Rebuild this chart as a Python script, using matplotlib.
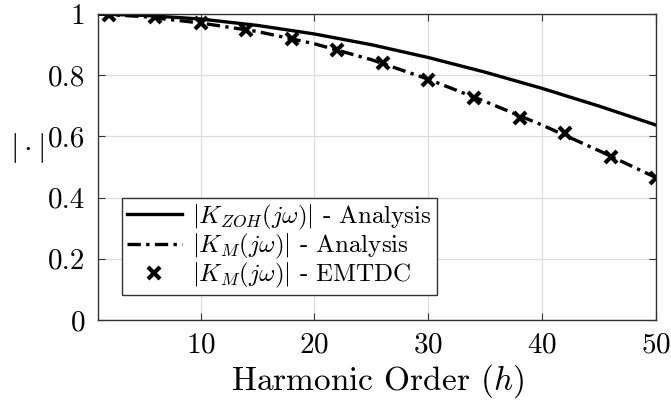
import numpy as np
import matplotlib
matplotlib.use('Agg')
import matplotlib.pyplot as plt

plt.rcParams['font.family'] = 'cmr10'
plt.rcParams['mathtext.fontset'] = 'cm'
plt.rcParams['axes.formatter.use_mathtext'] = True

# analysis curves
h_curve = [1, 5, 10, 15, 20, 25, 30, 35, 40, 45, 50]
k_zoh = [1.0, 0.996, 0.984, 0.963, 0.935, 0.900, 0.858, 0.810, 0.757, 0.699, 0.637]
k_m = [1.0, 0.992, 0.971, 0.943, 0.903, 0.851, 0.787, 0.714, 0.637, 0.553, 0.465]

# EMTDC points
h_emt = [2, 6, 10, 14, 18, 22, 26, 30, 34, 38, 42, 46, 50]
k_emt = [0.997, 0.990, 0.971, 0.948, 0.920, 0.882, 0.840, 0.784, 0.726, 0.660, 0.611, 0.533, 0.465]

xticks = [10, 20, 30, 40, 50]
yticks = [0, 0.2, 0.4, 0.6, 0.8, 1]

fig = plt.figure(figsize=(6.71, 4.03), dpi=100)
ax = fig.add_axes([0.146, 0.206, 0.832, 0.759])

ax.plot(h_curve, k_zoh, color='black', lw=2.4, label=r'$|K_{ZOH}(j\omega)|$ - Analysis')
ax.plot(h_curve, k_m, color='black', lw=2.4, linestyle=(0, (4, 1.6, 1, 1.6)),
        label=r'$|K_M(j\omega)|$ - Analysis')
ax.plot(h_emt, k_emt, linestyle='none', marker='x', color='black', markersize=9,
        markeredgewidth=3, label=r'$|K_M(j\omega)|$ - EMTDC')

ax.set_xlim(1, 50)
ax.set_ylim(0, 1)
ax.set_xticks(xticks)
ax.set_yticks(yticks)
ax.set_yticklabels(['0', '0.2', '0.4', '0.6', '0.8', '1'])
ax.grid(True, color='#dddddd', linewidth=0.9)
ax.set_axisbelow(True)
ax.tick_params(direction='in', top=True, right=True, labelsize=21, length=5, color='#333333', pad=9)
for s in ax.spines.values():
    s.set_color('#333333')
    s.set_linewidth(1.0)

ax.set_xlabel(r'Harmonic Order ($h$)', fontsize=24, labelpad=2)
ax.set_ylabel(r'$|\cdot|$', fontsize=22, rotation=0, va='center', ha='center')
ax.yaxis.set_label_coords(-0.127, 0.562)

leg = ax.legend(loc='lower left', bbox_to_anchor=(0.043, 0.082), fontsize=18, frameon=True,
                fancybox=False, edgecolor='#333333', framealpha=1, handlelength=2.2,
                borderpad=0.2, labelspacing=0.0, handletextpad=0.4, borderaxespad=0)
leg.get_frame().set_linewidth(1.0)

fig.savefig('out.png', dpi=100)
